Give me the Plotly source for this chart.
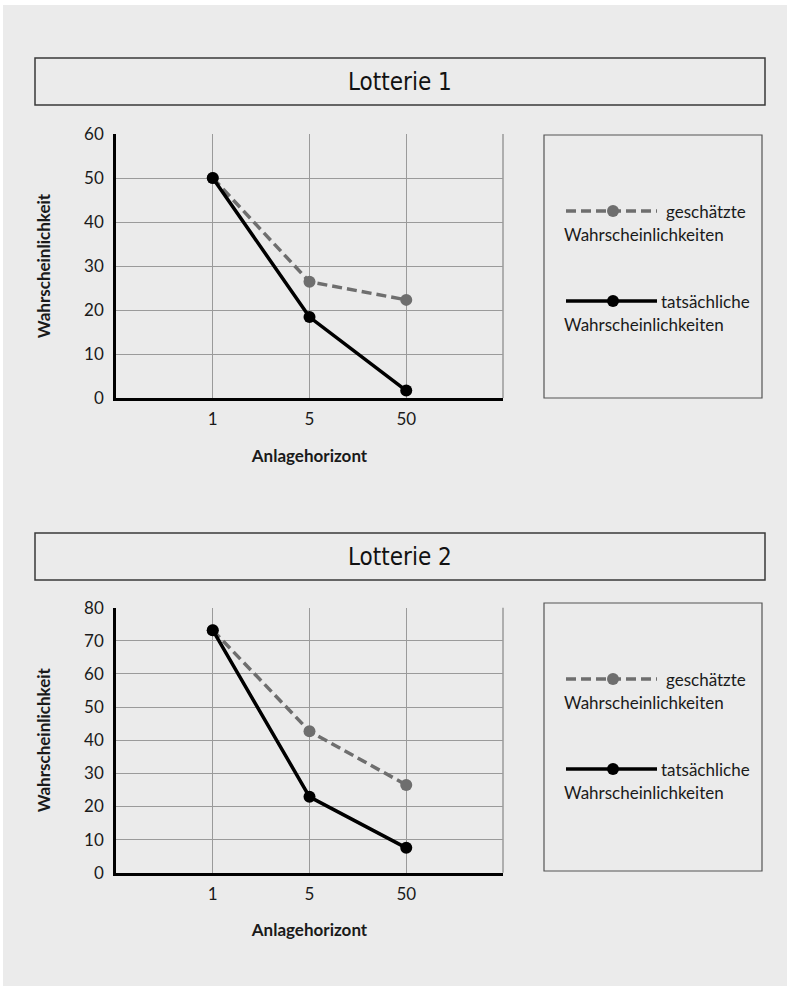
import plotly.graph_objects as go

# Investment horizon categories (years)
horizons = ["1", "5", "50"]

# Lottery 1: estimated vs. actual probabilities (%)
l1_estimated = [50, 26.4, 22.3]
l1_actual = [50, 18.4, 1.7]

# Lottery 2: estimated vs. actual probabilities (%)
l2_estimated = [73.2, 42.7, 26.5]
l2_actual = [73.2, 22.9, 7.5]

W, H = 787, 986
BG = "#ebebeb"
GREY_LINE = "#6e6e6e"
GRID = "#9a9a9a"
TEXT = "#1a1a1a"
BODY_FONT = "Lato, 'Open Sans', sans-serif"
TITLE_FONT = "'Liberation Sans Narrow', 'DejaVu Sans Condensed', sans-serif"


def px_x(x):
    return x / W


def px_y(y):
    return 1 - y / H


xpos = list(range(1, len(horizons) + 1))

fig = go.Figure()

panels = [
    dict(title="Lotterie 1", est=l1_estimated, act=l1_actual, ymax=60,
         plot_top=134, plot_bot=398, box_top=58, box_bot=105,
         leg_top=135, leg_bot=398, xa="x", ya="y"),
    dict(title="Lotterie 2", est=l2_estimated, act=l2_actual, ymax=80,
         plot_top=607.7, plot_bot=872.7, box_top=533, box_bot=580,
         leg_top=603, leg_bot=871, xa="x2", ya="y2"),
]

plot_left, plot_right = 116, 503

# grey page background (thin white border on top and left)
shapes = [dict(type="rect", xref="paper", yref="paper",
               x0=px_x(3), x1=1, y0=0, y1=px_y(5),
               line=dict(width=0), fillcolor=BG, layer="below")]
annotations = []

for i, p in enumerate(panels):
    n = "" if i == 0 else str(i + 1)
    fig.add_trace(go.Scatter(
        x=xpos, y=p["est"], xaxis=p["xa"], yaxis=p["ya"], mode="lines+markers",
        line=dict(color=GREY_LINE, width=3.5, dash="10px,5px"),
        marker=dict(color=GREY_LINE, size=12), showlegend=False, hoverinfo="skip"))
    fig.add_trace(go.Scatter(
        x=xpos, y=p["act"], xaxis=p["xa"], yaxis=p["ya"], mode="lines+markers",
        line=dict(color="black", width=3.5),
        marker=dict(color="black", size=12), showlegend=False, hoverinfo="skip"))

    fig.layout["xaxis" + n] = dict(
        domain=[px_x(plot_left), px_x(plot_right)], range=[0, 4],
        tickvals=xpos, ticktext=horizons, anchor=p["ya"], automargin=False,
        showgrid=True, gridcolor=GRID, gridwidth=1, zeroline=False,
        showline=True, linecolor="black", linewidth=3, ticks="",
        ticklabelstandoff=4,
        tickfont=dict(family=BODY_FONT, size=17, color=TEXT),
        title=dict(text="<b>Anlagehorizont</b>", standoff=22,
                   font=dict(family=BODY_FONT, size=17, color=TEXT)),
        fixedrange=True)
    fig.layout["yaxis" + n] = dict(
        domain=[px_y(p["plot_bot"]), px_y(p["plot_top"])], range=[0, p["ymax"]],
        dtick=10, anchor=p["xa"], automargin=False, showgrid=True, gridcolor=GRID,
        gridwidth=1, zeroline=False, showline=True, linecolor="black", linewidth=2.5,
        ticks="", ticklabelstandoff=6,
        tickfont=dict(family=BODY_FONT, size=17, color=TEXT),
        title=dict(text="<b>Wahrscheinlichkeit</b>", standoff=30,
                   font=dict(family=BODY_FONT, size=17, color=TEXT)),
        fixedrange=True)

    # right frame edge of the plot area
    shapes.append(dict(type="line", xref="paper", yref="paper",
                       x0=px_x(plot_right), x1=px_x(plot_right),
                       y0=px_y(p["plot_bot"]), y1=px_y(p["plot_top"]),
                       line=dict(color=GRID, width=1.5)))

    # title box
    shapes.append(dict(type="rect", xref="paper", yref="paper",
                       x0=px_x(35), x1=px_x(765), y0=px_y(p["box_bot"]), y1=px_y(p["box_top"]),
                       line=dict(color="#3a3a3a", width=1.5), fillcolor=BG, layer="below"))
    annotations.append(dict(text=p["title"], xref="paper", yref="paper",
                            x=px_x(400), y=px_y((p["box_top"] + p["box_bot"]) / 2),
                            showarrow=False, xanchor="center", yanchor="middle",
                            font=dict(family=TITLE_FONT, size=24, color="#111111")))

    # legend box
    shapes.append(dict(type="rect", xref="paper", yref="paper",
                       x0=px_x(544), x1=px_x(762), y0=px_y(p["leg_bot"]), y1=px_y(p["leg_top"]),
                       line=dict(color="#555555", width=1.2), fillcolor=BG, layer="below"))

    base = p["leg_top"]
    entries = [
        (base + 76, "10px,5px", GREY_LINE, "geschätzte", 664),
        (base + 166, "solid", "black", "tatsächliche", 659),
    ]
    for ly, dash, col, label, tx in entries:
        shapes.append(dict(type="line", xref="paper", yref="paper",
                           x0=px_x(566), x1=px_x(657), y0=px_y(ly), y1=px_y(ly),
                           line=dict(color=col, width=3.5, dash=dash)))
        shapes.append(dict(type="circle", xref="paper", yref="paper",
                           x0=px_x(607), x1=px_x(619), y0=px_y(ly + 6), y1=px_y(ly - 6),
                           line=dict(color=col, width=0), fillcolor=col))
        annotations.append(dict(text=label, xref="paper", yref="paper",
                                x=px_x(tx), y=px_y(ly), showarrow=False,
                                xanchor="left", yanchor="middle",
                                font=dict(family=BODY_FONT, size=17, color=TEXT)))
        annotations.append(dict(text="Wahrscheinlichkeiten", xref="paper", yref="paper",
                                x=px_x(562), y=px_y(ly + 23), showarrow=False,
                                xanchor="left", yanchor="middle",
                                font=dict(family=BODY_FONT, size=17, color=TEXT)))

fig.update_layout(
    width=W, height=H, margin=dict(l=0, r=0, t=0, b=0, autoexpand=False),
    paper_bgcolor="white", plot_bgcolor="white",
    shapes=shapes, annotations=annotations, showlegend=False,
)

fig.write_html("out.html", config={"displayModeBar": False})
